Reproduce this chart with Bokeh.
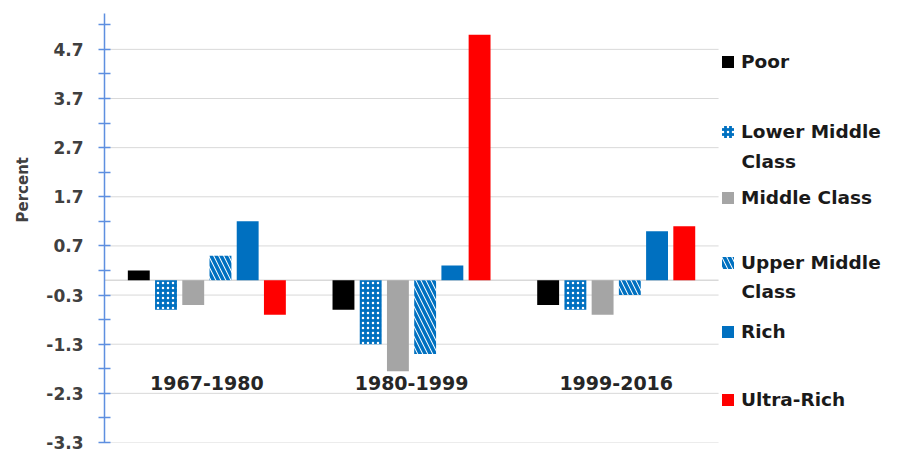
from bokeh.plotting import figure
from bokeh.models import (Range1d, FixedTicker, PrintfTickFormatter,
                          Legend, LegendItem, ColumnDataSource, Title, Label)
from bokeh.transform import dodge
from bokeh.core.properties import value
from bokeh.embed import file_html
from bokeh.resources import INLINE

# ---- data ----
periods = ["1967-1980", "1980-1999", "1999-2016"]
poor = [0.2, -0.6, -0.5]
lower_middle = [-0.6, -1.3, -0.6]
middle_class = [-0.5, -1.85, -0.7]
upper_middle = [0.5, -1.5, -0.3]
rich = [1.2, 0.3, 1.0]
ultra_rich = [-0.7, 5.0, 1.1]
legend_first_lines = ["Poor", "Lower Middle", "Middle Class", "Upper Middle", "Rich", "Ultra-Rich"]
legend_second_lines = ["", "Class", "", "Class", "", ""]
y_ticks = [-3.3, -2.3, -1.3, -0.3, 0.7, 1.7, 2.7, 3.7, 4.7]
y_minor = [-2.8, -1.8, -0.8, 0.2, 1.2, 2.2, 3.2, 4.2, 5.2]

# ---- style ----
FONT = "DejaVu Sans"
BLUE = "#0070C0"
AXIS_BLUE = "#5E8FE0"
GRID = "#D9D9D9"
STEP = 0.133
BAR_W = 0.107
LABEL_Y = -2.09
W, H = 883, 453
BORDER_L, BORDER_T, BORDER_B = 99, 13, 11
GROUP_PX = 206
X_LO, X_HI_GROUPS = -0.5, 2.5
X_HI = X_LO + (W - BORDER_L) / GROUP_PX

x_pos = list(range(len(periods)))
src = ColumnDataSource(dict(x=x_pos, period=periods, poor=poor, lower_middle=lower_middle,
                            middle_class=middle_class, upper_middle=upper_middle,
                            rich=rich, ultra_rich=ultra_rich))

p = figure(width=W, height=H, output_backend="svg", toolbar_location=None,
           x_range=Range1d(X_LO, X_HI), y_range=Range1d(-3.3, 5.43),
           x_axis_location=None,
           min_border_left=BORDER_L, min_border_right=0,
           min_border_top=BORDER_T, min_border_bottom=BORDER_B)
p.outline_line_color = None
p.background_fill_color = "white"
p.border_fill_color = "white"
p.xgrid.visible = False
p.ygrid.visible = False

# horizontal gridlines and zero (category) line, only across the group area
p.segment(x0=X_LO, x1=X_HI_GROUPS, y0=y_ticks, y1=y_ticks, line_color=GRID, line_width=1)
p.segment(x0=X_LO, x1=X_HI_GROUPS, y0=0, y1=0, line_color=GRID, line_width=1.5)

styles = [
    dict(fill_color="black"),
    dict(fill_color=BLUE, hatch_pattern="dot", hatch_color="white", hatch_scale=5, hatch_weight=1.3),
    dict(fill_color="#A5A5A5"),
    dict(fill_color="white", hatch_pattern="left_diagonal_line", hatch_color=BLUE,
         hatch_scale=10, hatch_weight=3.5),
    dict(fill_color=BLUE),
    dict(fill_color="#FF0000"),
]
cols = ["poor", "lower_middle", "middle_class", "upper_middle", "rich", "ultra_rich"]
renderers = []
for i, (c, st) in enumerate(zip(cols, styles)):
    r = p.vbar(x=dodge("x", (i - 2.5) * STEP), top=c, bottom=0,
               width=BAR_W, source=src, line_color=None, **st)
    renderers.append(r)

# category labels
p.text(x="x", y=LABEL_Y, text="period", source=src,
       text_font=value(FONT), text_font_style="bold", text_font_size="19px",
       text_align="center", text_baseline="middle", text_color="#262626")

# y axis
ax = p.yaxis[0]
ax.ticker = FixedTicker(ticks=y_ticks, minor_ticks=y_minor)
ax.formatter = PrintfTickFormatter(format="%.1f")
ax.axis_line_color = AXIS_BLUE
ax.axis_line_width = 1.5
ax.major_tick_line_color = AXIS_BLUE
ax.minor_tick_line_color = AXIS_BLUE
ax.major_tick_line_width = 1.5
ax.minor_tick_line_width = 1.5
ax.major_tick_in = 6
ax.major_tick_out = 6
ax.minor_tick_in = 6
ax.minor_tick_out = 6
ax.major_label_standoff = 15
ax.major_label_text_font = FONT
ax.major_label_text_font_style = "bold"
ax.major_label_text_font_size = "17px"
ax.major_label_text_color = "#404040"

ytitle = Title(text="Percent", align="left", offset=220, standoff=23,
               text_font=FONT, text_font_style="bold", text_font_size="15px",
               text_color="#404040")
p.add_layout(ytitle, "left")

# legends (one per entry, to the right of the groups)
LEG_X = 616
leg_center_y = [62, 132, 198, 263, 332, 400]      # px from top of figure
second_line_y = [None, 161, None, 291, None, None]
leg_text = dict(text_font=FONT, text_font_style="bold", text_font_size="18.5px",
                text_color="#1A1A1A")
for name, name2, r, cy, cy2 in zip(legend_first_lines, legend_second_lines,
                                   renderers, leg_center_y, second_line_y):
    leg = Legend(items=[LegendItem(label=name, renderers=[r])],
                 location=(LEG_X, (H - BORDER_B) - cy - 10),
                 padding=0, margin=0, border_line_color=None, background_fill_alpha=0,
                 glyph_width=15, glyph_height=15, label_standoff=6, label_height=20,
                 label_text_font=FONT, label_text_font_style="bold",
                 label_text_font_size="18.5px", label_text_color="#1A1A1A")
    p.add_layout(leg)
    if name2:
        p.add_layout(Label(x=LEG_X + 21, y=(H - BORDER_B) - cy2, x_units="screen",
                           y_units="screen", text=name2, text_baseline="middle",
                           **leg_text))

open("out.html", "w").write(file_html(p, INLINE))
